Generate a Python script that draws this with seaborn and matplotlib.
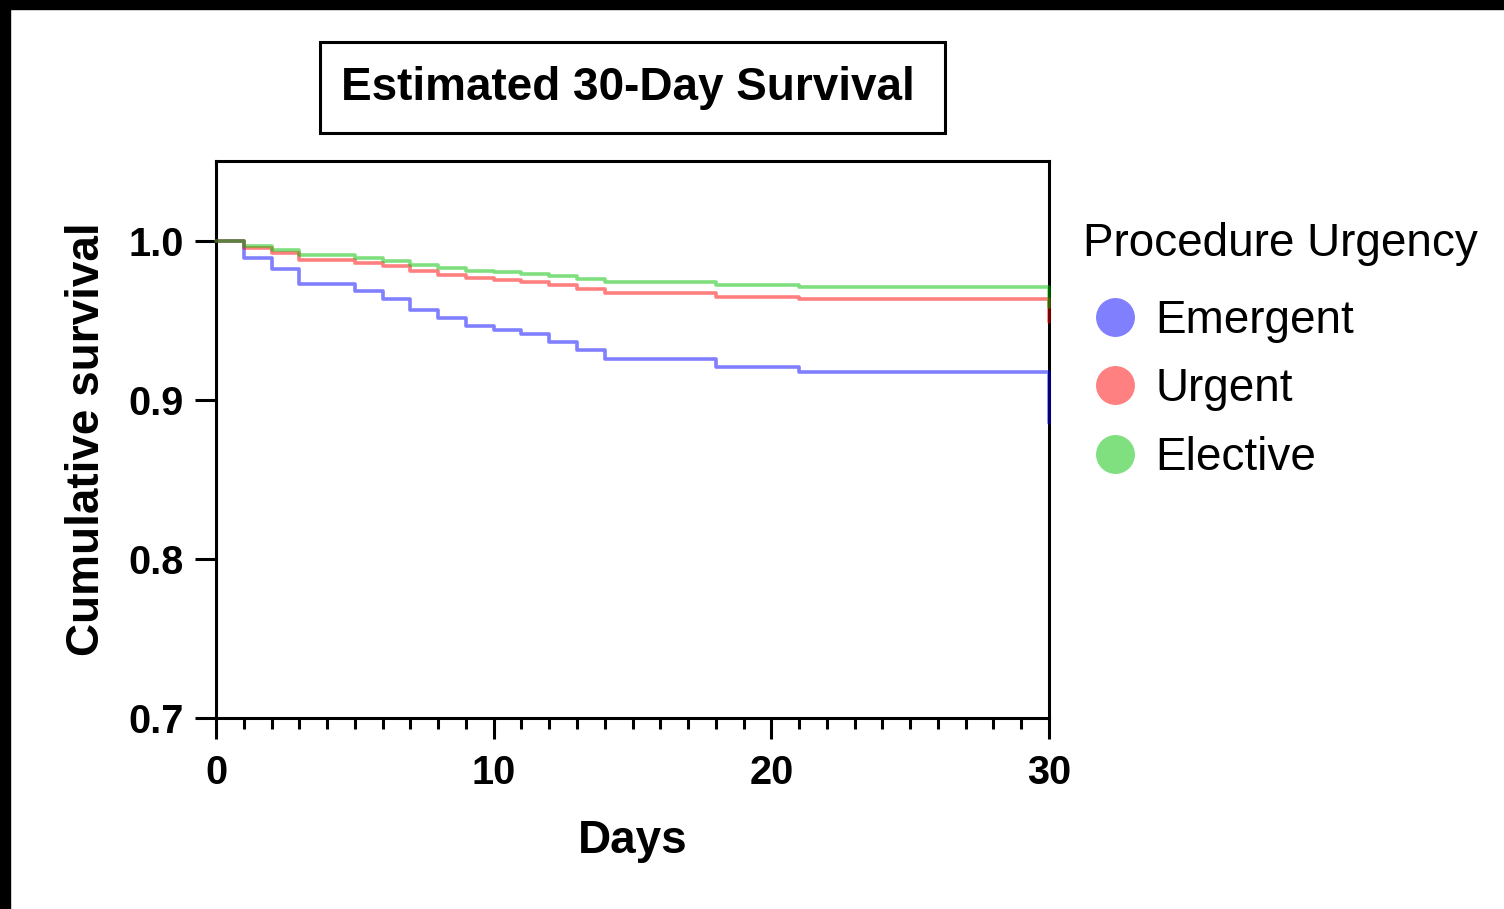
import numpy as np
import pandas as pd
import matplotlib
matplotlib.use("Agg")
import matplotlib.pyplot as plt
from matplotlib.lines import Line2D
from matplotlib.patches import Rectangle
from matplotlib.ticker import MultipleLocator, FormatStrFormatter
import seaborn as sns

# Kaplan-Meier step values
days = [0, 1, 2, 3, 5, 6, 7, 8, 9, 10, 11, 12, 13, 14, 18, 21, 30]
emergent = [1.0, 0.9893, 0.9824, 0.9730, 0.9683, 0.9635, 0.9566, 0.9514, 0.9461,
            0.9436, 0.9415, 0.9363, 0.9310, 0.9258, 0.9205, 0.9174, 0.8855]
urgent = [1.0, 0.9954, 0.9925, 0.9881, 0.9860, 0.9841, 0.9809, 0.9786, 0.9765,
          0.9755, 0.9740, 0.9719, 0.9698, 0.9673, 0.9646, 0.9633, 0.9486]
elective = [1.0, 0.9966, 0.9941, 0.9908, 0.9891, 0.9872, 0.9849, 0.9830, 0.9809,
            0.9803, 0.9792, 0.9778, 0.9761, 0.9740, 0.9719, 0.9708, 0.9580]

groups = ["Emergent", "Urgent", "Elective"]
line_colors = ["#0000ff", "#ff0000", "#00c000"]
dot_colors = ["#8080ff", "#ff8080", "#80e080"]

df = pd.concat([
    pd.DataFrame({"Days": days, "Survival": vals, "Procedure Urgency": g})
    for g, vals in zip(groups, [emergent, urgent, elective])
])

sns.set_theme(style="ticks")
plt.rcParams["font.family"] = ["Liberation Sans", "DejaVu Sans"]
plt.rcParams.update({"text.color": "black", "axes.labelcolor": "black",
                     "xtick.color": "black", "ytick.color": "black",
                     "axes.edgecolor": "black"})

fig = plt.figure(figsize=(15.04, 9.09), dpi=100)
ax = fig.add_axes([216 / 1504, 1 - 718 / 909, 833 / 1504, 557 / 909])

sns.lineplot(data=df, x="Days", y="Survival", hue="Procedure Urgency",
             palette=dict(zip(groups, line_colors)), estimator=None,
             drawstyle="steps-post", lw=2.6, alpha=0.5, legend=False,
             zorder=3, clip_on=False, ax=ax)

ax.set_xlim(0, 30)
ax.set_ylim(0.7, 1.05)
ax.set_xticks([0, 10, 20, 30])
ax.xaxis.set_minor_locator(MultipleLocator(1))
ax.set_yticks([0.7, 0.8, 0.9, 1.0])
ax.yaxis.set_major_formatter(FormatStrFormatter("%.1f"))

for s in ax.spines.values():
    s.set_visible(True)
    s.set_linewidth(2.2)
    s.set_color("black")

ax.tick_params(axis="both", which="major", direction="out", length=15, width=2.2,
               color="black", labelsize=28.5, pad=8)
ax.tick_params(axis="x", which="major", pad=11)
ax.tick_params(axis="x", which="minor", direction="out", length=8, width=2.2, color="black")
for lab in ax.get_xticklabels() + ax.get_yticklabels():
    lab.set_fontweight("bold")

ax.set_xlabel("Days", fontsize=33, fontweight="bold")
ax.set_ylabel("Cumulative survival", fontsize=33, fontweight="bold")
ax.xaxis.set_label_coords(0.5, -0.182)
ax.yaxis.set_label_coords(-0.128, 0.5)

# title box
fig.patches.append(Rectangle((320 / 1504, 1 - 133 / 909), 625 / 1504, 91 / 909,
                             transform=fig.transFigure, fill=False,
                             edgecolor="black", lw=2.2))
fig.text(341 / 1504, 1 - 100 / 909, "Estimated 30-Day Survival", fontsize=33,
         fontweight="bold", ha="left", va="baseline")

# legend
fig.text(1083 / 1504, 1 - 256 / 909, "Procedure Urgency", fontsize=33,
         ha="left", va="baseline")
handles = [Line2D([], [], marker="o", linestyle="none", markersize=27,
                  markerfacecolor=c, markeredgecolor=c) for c in dot_colors]
fig.legend(handles, groups, loc="upper left",
           bbox_to_anchor=(1085 / 1504, 1 - 299 / 909), frameon=False,
           fontsize=33, borderpad=0, borderaxespad=0,
           handlelength=1.3, handletextpad=0.24, labelspacing=0.53)

# black strips along the top and left edges
fig.patches.append(Rectangle((0, 1 - 9 / 909), 1, 9 / 909,
                             transform=fig.transFigure, color="black"))
fig.patches.append(Rectangle((0, 0), 10 / 1504, 1,
                             transform=fig.transFigure, color="black"))

fig.savefig("out.png", dpi=100)
